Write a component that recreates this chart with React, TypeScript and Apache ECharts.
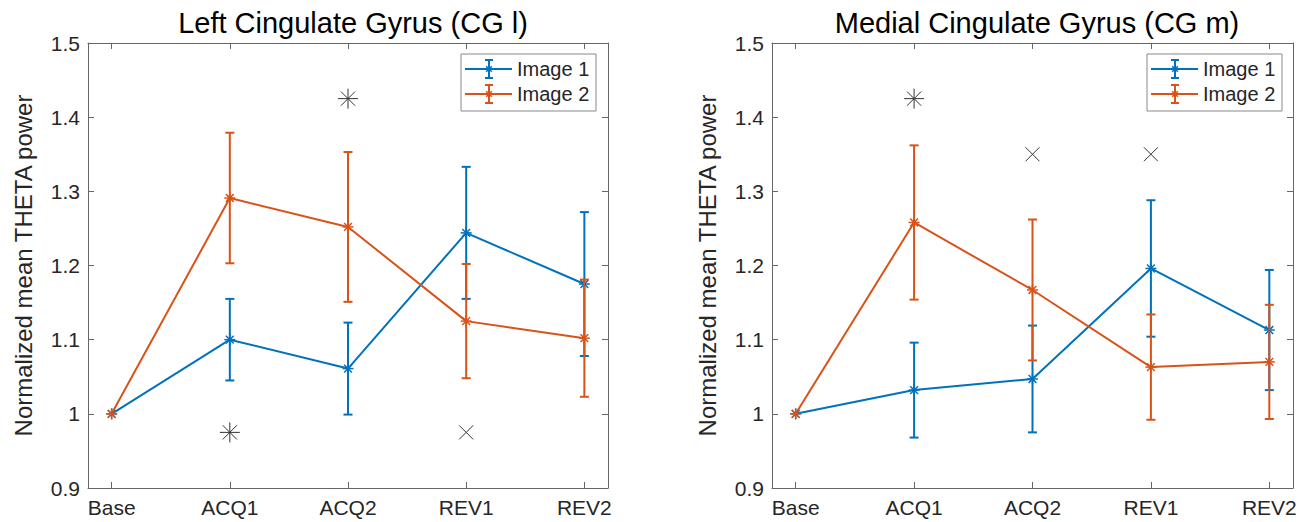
import React, { useEffect, useRef } from 'react';
import * as echarts from 'echarts';

const categories = ['Base', 'ACQ1', 'ACQ2', 'REV1', 'REV2'];
const xPositions = [1, 2, 3, 4, 5];

const leftTitle = 'Left Cingulate Gyrus (CG l)';
const rightTitle = 'Medial Cingulate Gyrus (CG m)';
const yLabel = 'Normalized mean THETA power';
const seriesNames = ['Image 1', 'Image 2'];

const leftImg1Mean = [1, 1.1, 1.061, 1.244, 1.175];
const leftImg1Err = [0, 0.055, 0.062, 0.089, 0.097];
const leftImg2Mean = [1, 1.291, 1.252, 1.125, 1.102];
const leftImg2Err = [0, 0.088, 0.101, 0.077, 0.079];

const rightImg1Mean = [1, 1.032, 1.047, 1.196, 1.113];
const rightImg1Err = [0, 0.064, 0.072, 0.092, 0.081];
const rightImg2Mean = [1, 1.258, 1.167, 1.063, 1.07];
const rightImg2Err = [0, 0.104, 0.095, 0.071, 0.077];

// significance markers: kind 0 = asterisk, 1 = cross
const leftSigX = [2, 3, 4];
const leftSigY = [0.975, 1.425, 0.975];
const leftSigKind = [0, 0, 1];
const rightSigX = [2, 3, 4];
const rightSigY = [1.425, 1.35, 1.35];
const rightSigKind = [0, 1, 1];

const yMin = 0.9;
const yMax = 1.5;
const yStep = 0.1;

const BLUE = '#0072BD';
const ORANGE = '#D95319';
const TEXT = '#262626';
const AXIS = '#666666';
const FONT = '"Liberation Sans", Arial, Helvetica, sans-serif';

function starLines(cx: number, cy: number, r: number, color: string, lw: number) {
  const d = r * 0.7071;
  const st = { stroke: color, lineWidth: lw };
  return [
    { type: 'line', shape: { x1: cx - r, y1: cy, x2: cx + r, y2: cy }, style: st },
    { type: 'line', shape: { x1: cx, y1: cy - r, x2: cx, y2: cy + r }, style: st },
    { type: 'line', shape: { x1: cx - d, y1: cy - d, x2: cx + d, y2: cy + d }, style: st },
    { type: 'line', shape: { x1: cx - d, y1: cy + d, x2: cx + d, y2: cy - d }, style: st },
  ];
}

function crossLines(cx: number, cy: number, r: number, color: string, lw: number) {
  const st = { stroke: color, lineWidth: lw };
  return [
    { type: 'line', shape: { x1: cx - r, y1: cy - r, x2: cx + r, y2: cy + r }, style: st },
    { type: 'line', shape: { x1: cx - r, y1: cy + r, x2: cx + r, y2: cy - r }, style: st },
  ];
}

function errorBarElems(cx: number, cy: number, topY: number, botY: number, color: string, cap: number) {
  const st = { stroke: color, lineWidth: 2 };
  const els: any[] = [];
  if (Math.abs(botY - topY) > 0.5) {
    els.push({ type: 'line', shape: { x1: cx, y1: topY, x2: cx, y2: botY }, style: st });
    els.push({ type: 'line', shape: { x1: cx - cap, y1: topY, x2: cx + cap, y2: topY }, style: st });
    els.push({ type: 'line', shape: { x1: cx - cap, y1: botY, x2: cx + cap, y2: botY }, style: st });
  }
  return els;
}

function makeSeries(name: string, means: number[], errs: number[], color: string, axisIdx: number) {
  const lineData = xPositions.map((x, i) => [x, means[i]]);
  const barData = xPositions.map((x, i) => [x, means[i], errs[i]]);
  return [
    {
      type: 'line',
      name,
      xAxisIndex: axisIdx,
      yAxisIndex: axisIdx,
      data: lineData,
      showSymbol: false,
      lineStyle: { color, width: 2 },
      itemStyle: { color },
      z: 2,
    },
    {
      type: 'custom',
      name,
      xAxisIndex: axisIdx,
      yAxisIndex: axisIdx,
      data: barData,
      encode: { x: 0, y: 1 },
      z: 3,
      renderItem: (params: any, api: any) => {
        const x = api.value(0);
        const m = api.value(1);
        const e = api.value(2);
        const p = api.coord([x, m]);
        const t = api.coord([x, m + e]);
        const b = api.coord([x, m - e]);
        return {
          type: 'group',
          children: [
            ...errorBarElems(p[0], p[1], t[1], b[1], color, 4.5),
            ...starLines(p[0], p[1], 5.5, color, 1.5),
          ],
        };
      },
    },
  ];
}

function makeSig(xs: number[], ys: number[], kinds: number[], axisIdx: number) {
  return {
    type: 'custom',
    xAxisIndex: axisIdx,
    yAxisIndex: axisIdx,
    data: xs.map((x, i) => [x, ys[i], kinds[i]]),
    encode: { x: 0, y: 1 },
    z: 4,
    renderItem: (params: any, api: any) => {
      const p = api.coord([api.value(0), api.value(1)]);
      const kind = api.value(2);
      return {
        type: 'group',
        children: kind === 0 ? starLines(p[0], p[1], 10, '#333333', 1) : crossLines(p[0], p[1], 7, '#333333', 1),
      };
    },
  };
}

function legendElems(right: number) {
  const w = 135;
  const h = 57;
  const x = right - w;
  const y = 54;
  const els: any[] = [
    { type: 'rect', z: 100, shape: { x, y, width: w, height: h }, style: { fill: '#ffffff', stroke: '#8a8a8a', lineWidth: 1 } },
  ];
  [BLUE, ORANGE].forEach((c, i) => {
    const ly = y + 15 + i * 25;
    const cx = x + 28;
    els.push({ type: 'line', z: 101, shape: { x1: x + 4, y1: ly, x2: x + 51, y2: ly }, style: { stroke: c, lineWidth: 2 } });
    errorBarElems(cx, ly, ly - 9, ly + 9, c, 4).forEach((e) => els.push({ ...e, z: 101 }));
    starLines(cx, ly, 4, c, 1.5).forEach((e) => els.push({ ...e, z: 102 }));
    els.push({
      type: 'text',
      z: 101,
      x: x + 56,
      y: ly,
      style: { text: seriesNames[i], fill: TEXT, fontSize: 20, fontFamily: FONT, verticalAlign: 'middle', align: 'left' },
    });
  });
  return els;
}

function xAxes(gridIndex: number) {
  const base = {
    gridIndex,
    type: 'value',
    min: 0.8,
    max: 5.2,
    splitLine: { show: false },
    axisLine: { show: true, onZero: false, lineStyle: { color: AXIS, width: 1 } },
  };
  return [
    {
      ...base,
      position: 'bottom',
      axisTick: { show: true, inside: true, length: 6, customValues: xPositions, lineStyle: { color: AXIS } },
      axisLabel: {
        show: true,
        customValues: xPositions,
        formatter: (v: number) => categories[Math.round(v) - 1] ?? '',
        color: TEXT,
        fontSize: 21,
        fontFamily: FONT,
        margin: 9,
      },
    },
    {
      ...base,
      position: 'top',
      axisTick: { show: true, inside: true, length: 6, customValues: xPositions, lineStyle: { color: AXIS } },
      axisLabel: { show: false },
    },
  ];
}

function yAxes(gridIndex: number, withName: boolean) {
  const base = {
    gridIndex,
    type: 'value',
    min: yMin,
    max: yMax,
    interval: yStep,
    splitLine: { show: false },
    axisLine: { show: true, onZero: false, lineStyle: { color: AXIS, width: 1 } },
    axisTick: { show: true, inside: true, length: 6, lineStyle: { color: AXIS } },
  };
  return [
    {
      ...base,
      position: 'left',
      name: withName ? yLabel : '',
      nameLocation: 'middle',
      nameGap: 53,
      nameTextStyle: { color: TEXT, fontSize: 24, fontFamily: FONT },
      axisLabel: {
        show: true,
        color: TEXT,
        fontSize: 21,
        fontFamily: FONT,
        margin: 8,
        formatter: (v: number) => String(Math.round(v * 10) / 10),
      },
    },
    {
      ...base,
      position: 'right',
      axisLabel: { show: false },
    },
  ];
}

export default function App() {
  const ref = useRef<HTMLDivElement>(null);
  useEffect(() => {
    if (!ref.current) return;
    const chart = echarts.init(ref.current, null, { renderer: 'svg' });
    const option: any = {
      animation: false,
      backgroundColor: '#ffffff',
      textStyle: { fontFamily: FONT },
      title: [
        {
          text: leftTitle,
          left: 348,
          top: 3,
          textAlign: 'center',
          textStyle: { fontSize: 29, fontWeight: 'normal', color: '#000000', fontFamily: FONT },
        },
        {
          text: rightTitle,
          left: 1032,
          top: 3,
          textAlign: 'center',
          textStyle: { fontSize: 29, fontWeight: 'normal', color: '#000000', fontFamily: FONT },
        },
      ],
      grid: [
        { left: 88, top: 43, width: 520, height: 445 },
        { left: 772, top: 43, width: 521, height: 445 },
      ],
      xAxis: [...xAxes(0), ...xAxes(1)],
      yAxis: [...yAxes(0, true), ...yAxes(1, true)],
      series: [
        ...makeSeries(seriesNames[0], leftImg1Mean, leftImg1Err, BLUE, 0),
        ...makeSeries(seriesNames[1], leftImg2Mean, leftImg2Err, ORANGE, 0),
        makeSig(leftSigX, leftSigY, leftSigKind, 0),
        ...makeSeries(seriesNames[0], rightImg1Mean, rightImg1Err, BLUE, 2),
        ...makeSeries(seriesNames[1], rightImg2Mean, rightImg2Err, ORANGE, 2),
        makeSig(rightSigX, rightSigY, rightSigKind, 2),
      ],
      graphic: [...legendElems(596), ...legendElems(1282)],
    };
    chart.setOption(option);
    return () => chart.dispose();
  }, []);
  return (
    <div
      ref={ref}
      style={{ position: 'fixed', left: 0, top: 0, width: 1311, height: 522, background: '#fff' }}
    />
  );
}
